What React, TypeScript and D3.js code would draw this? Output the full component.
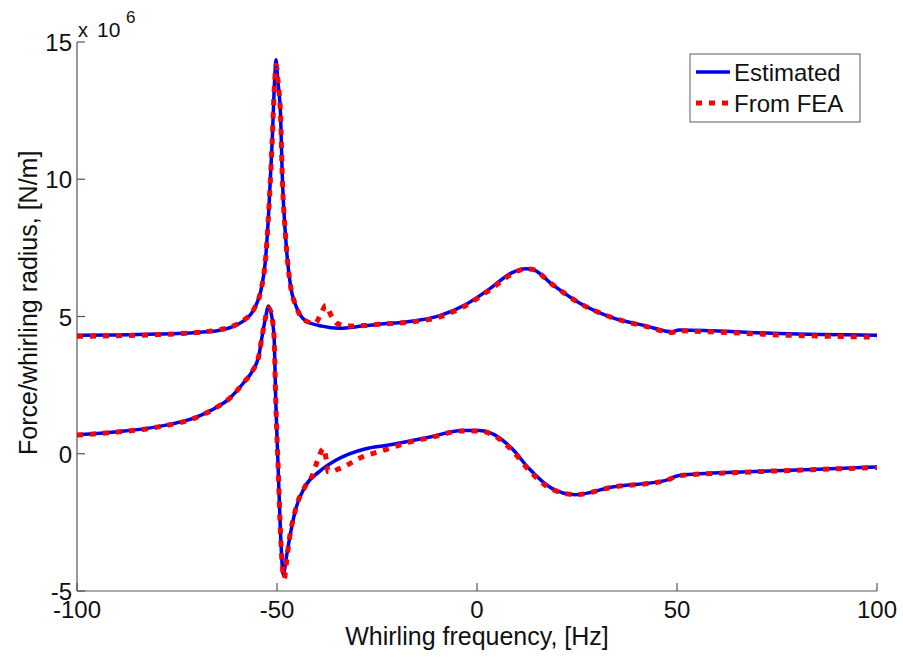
import { useMemo } from 'react';
import * as d3 from 'd3';

const W = 903;
const H = 657;
const M = { top: 42, right: 26, bottom: 66, left: 77 };
const FONT = '"Liberation Sans", Arial, sans-serif';

const xTicks = [-100, -50, 0, 50, 100];
const yTicks = [-5, 0, 5, 10, 15];

// Estimated, upper curve
const estUpperHz = [-100, -90, -80, -70, -65, -62, -60, -57.8, -56, -55.3, -54.1, -52.8, -52, -51.2, -50.6, -50.25, -49.8, -49.1, -48.7, -47.8, -46.6, -45.3, -42.8, -38.75, -34.5, -28.75, -24.5, -17.8, -9.5, -2.8, 3, 8.8, 12.2, 13.8, 18.8, 25.5, 33.8, 42.2, 48.8, 50.5, 58.8, 75.5, 100];
const estUpperVal = [4.32, 4.33, 4.36, 4.42, 4.48, 4.58, 4.7, 4.9, 5.2, 5.4, 5.9, 7.2, 9.0, 11.4, 13.6, 14.35, 13.6, 12.3, 10.2, 7.8, 6.1, 5.4, 4.84, 4.65, 4.57, 4.65, 4.72, 4.8, 5.02, 5.44, 5.99, 6.6, 6.74, 6.72, 6.17, 5.5, 4.96, 4.66, 4.44, 4.51, 4.48, 4.38, 4.32];

// Estimated, lower curve
const estLowerHz = [-100, -90, -80, -70, -65, -62, -60, -58, -56.2, -54.5, -53.7, -52.8, -52.2, -51.6, -50.75, -50.3, -49.7, -49.1, -48.4, -47.8, -47, -45.3, -42.8, -39.5, -35.3, -27.8, -22.8, -16.2, -12, -3.7, 0.5, 3.8, 8.8, 13, 18.8, 24.7, 33.8, 47.2, 50.5, 67.2, 83.8, 100];
const estLowerVal = [0.69, 0.8, 0.98, 1.34, 1.7, 2.0, 2.3, 2.65, 3.0, 3.6, 4.3, 5.0, 5.38, 5.2, 4.3, 1.88, -0.54, -2.97, -4.42, -3.9, -3.2, -2.0, -1.15, -0.66, -0.24, 0.18, 0.3, 0.48, 0.6, 0.85, 0.85, 0.73, 0.18, -0.54, -1.27, -1.49, -1.21, -0.97, -0.79, -0.66, -0.57, -0.48];

// From FEA, upper curve
const feaUpperHz = [-100, -90, -80, -70, -65, -62, -60, -57.8, -56, -55.3, -54.1, -52.8, -52, -51.2, -50.6, -50.2, -49.7, -49.1, -48.7, -47.8, -46.6, -45.3, -42.8, -40.5, -39, -37.8, -36.5, -35, -32, -28, -24.5, -17.8, -9.5, -2.8, 3, 8.8, 12.2, 13.8, 18.8, 25.5, 33.8, 42.2, 48.8, 50.5, 58.8, 75.5, 100];
const feaUpperVal = [4.28, 4.3, 4.34, 4.42, 4.5, 4.6, 4.72, 4.92, 5.2, 5.4, 5.9, 7.2, 9.0, 11.4, 13.5, 14.15, 13.5, 12.3, 10.2, 7.8, 6.1, 5.4, 4.84, 4.75, 5.1, 5.4, 5.05, 4.75, 4.65, 4.67, 4.72, 4.78, 4.98, 5.4, 5.95, 6.55, 6.74, 6.72, 6.17, 5.5, 4.96, 4.64, 4.42, 4.48, 4.44, 4.33, 4.25];

// From FEA, lower curve
const feaLowerHz = [-100, -90, -80, -70, -65, -62, -60, -58, -56.2, -54.5, -53.7, -52.8, -52.2, -51.6, -50.75, -50.3, -49.7, -49.1, -48.2, -47.6, -47, -45.3, -42.8, -41.2, -40, -38.3, -37.6, -37.2, -34.5, -28.7, -22.8, -16.2, -12, -3.7, 0.5, 3.8, 8.8, 13, 18.8, 24.7, 33.8, 47.2, 50.5, 67.2, 83.8, 100];
const feaLowerVal = [0.68, 0.79, 0.97, 1.33, 1.7, 2.0, 2.3, 2.65, 3.0, 3.6, 4.3, 5.0, 5.3, 5.2, 4.3, 1.88, -0.54, -2.97, -4.55, -3.9, -3.2, -2.0, -1.15, -0.8, -0.3, 0.2, -0.3, -0.66, -0.55, -0.12, 0.15, 0.45, 0.58, 0.83, 0.83, 0.7, 0.12, -0.6, -1.3, -1.49, -1.22, -0.98, -0.8, -0.67, -0.58, -0.5];

export default function App() {
  const { x, y, lineGen } = useMemo(() => {
    const x = d3.scaleLinear().domain([-100, 100]).range([M.left, W - M.right]);
    const y = d3.scaleLinear().domain([-5, 15]).range([H - M.bottom, M.top]);
    const lineGen = d3
      .line<[number, number]>()
      .x((d) => x(d[0]))
      .y((d) => y(d[1]))
      .curve(d3.curveMonotoneX);
    return { x, y, lineGen };
  }, []);

  const pts = (hz: number[], v: number[]) => hz.map((h, i) => [h, v[i]] as [number, number]);

  const blue = [pts(estUpperHz, estUpperVal), pts(estLowerHz, estLowerVal)];
  const red = [pts(feaUpperHz, feaUpperVal), pts(feaLowerHz, feaLowerVal)];

  const x0 = x(-100);
  const y0 = y(-5);

  return (
    <svg width={W} height={H} style={{ position: 'absolute', left: 0, top: 0 }} fontFamily={FONT}>
      <rect width={W} height={H} fill="#fff" />

      {/* axes */}
      <line x1={x0} x2={x(100)} y1={y0} y2={y0} stroke="#555" strokeWidth={1.2} />
      <line x1={x0} x2={x0} y1={y0} y2={y(15)} stroke="#555" strokeWidth={1.2} />
      {xTicks.map((t) => (
        <g key={'x' + t}>
          <line x1={x(t)} x2={x(t)} y1={y0} y2={y0 - 8} stroke="#555" strokeWidth={1.2} />
          <text x={x(t)} y={618} textAnchor="middle" fontSize={24} fill="#111">
            {t}
          </text>
        </g>
      ))}
      {yTicks.map((t) => (
        <g key={'y' + t}>
          <line x1={x0} x2={x0 + 8} y1={y(t)} y2={y(t)} stroke="#555" strokeWidth={1.2} />
          <text x={x0 - 5} y={y(t) + 9} textAnchor="end" fontSize={24} fill="#111">
            {t}
          </text>
        </g>
      ))}

      {/* exponent */}
      <text x={78} y={37} fontSize={20} fill="#111">x</text>
      <text x={97} y={37} fontSize={21} fill="#111">10</text>
      <text x={126} y={23} fontSize={17} fill="#111">6</text>

      <text x={(x0 + x(100)) / 2} y={645} textAnchor="middle" fontSize={25} fill="#111">
        Whirling frequency, [Hz]
      </text>
      <text
        transform={`translate(37, ${y(5.5)}) rotate(-90)`}
        textAnchor="middle"
        fontSize={25}
        fill="#111"
      >
        Force/whirling radius, [N/m]
      </text>

      {/* curves */}
      {blue.map((d, i) => (
        <path key={'b' + i} d={lineGen(d) || ''} fill="none" stroke="#0000ee" strokeWidth={3.5} strokeLinejoin="round" />
      ))}
      {red.map((d, i) => (
        <path key={'r' + i} d={lineGen(d) || ''} fill="none" stroke="#ff0000" strokeWidth={5} strokeDasharray="6 7" />
      ))}

      {/* legend */}
      <rect x={690} y={54} width={170} height={68} fill="#fff" stroke="#777" strokeWidth={1.2} />
      <line x1={696} x2={730} y1={72} y2={72} stroke="#0000ee" strokeWidth={3.5} />
      <text x={734} y={81} fontSize={24} fill="#111">Estimated</text>
      <line x1={696} x2={730} y1={103} y2={103} stroke="#ff0000" strokeWidth={5} strokeDasharray="6 7" />
      <text x={734} y={112} fontSize={24} fill="#111">From FEA</text>
    </svg>
  );
}
